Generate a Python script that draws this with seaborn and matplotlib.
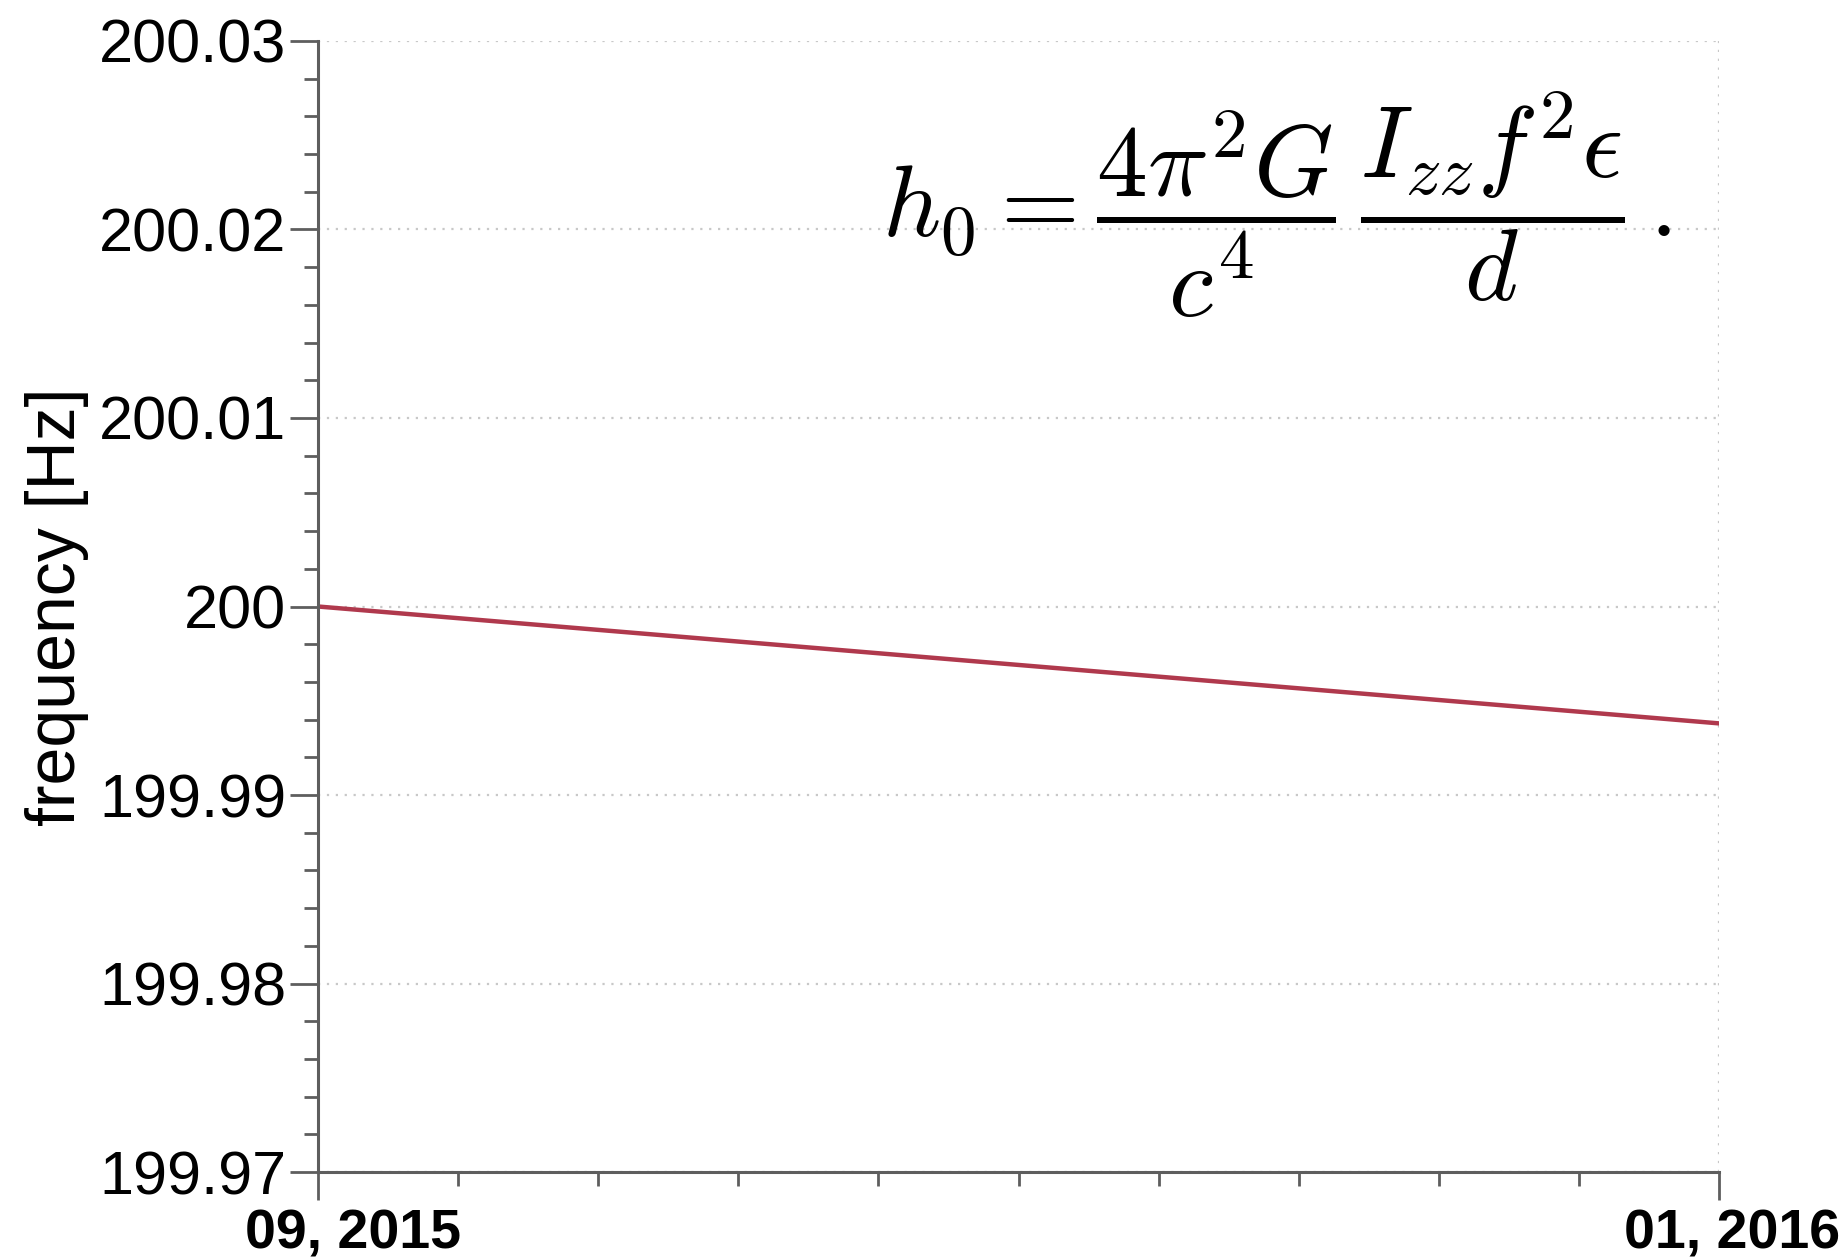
import numpy as np
import pandas as pd
import seaborn as sns
import matplotlib
matplotlib.use("Agg")
import matplotlib.pyplot as plt
import matplotlib.dates as mdates
from matplotlib.ticker import FixedLocator, NullFormatter
from matplotlib.transforms import ScaledTranslation

# Spin-down of a 200 Hz source over four months
dates = ["2015-09-01", "2016-01-01"]
frequency_hz = [200.0, 199.9938]

y_ticks = [199.97, 199.98, 199.99, 200.00, 200.01, 200.02, 200.03]
y_tick_labels = ["199.97", "199.98", "199.99", "200", "200.01", "200.02", "200.03"]
x_tick_labels = ["09, 2015", "01, 2016"]

df = pd.DataFrame({"date": pd.to_datetime(dates), "frequency": frequency_hz})

sns.set_theme(style="white")
plt.rcParams["font.family"] = ["Liberation Sans", "DejaVu Sans"]
plt.rcParams["mathtext.fontset"] = "cm"
plt.rcParams["text.color"] = "black"
plt.rcParams["xtick.labelcolor"] = "black"
plt.rcParams["ytick.labelcolor"] = "black"
plt.rcParams["axes.labelcolor"] = "black"

fig = plt.figure(figsize=(18.48, 12.6), dpi=100)
ax = fig.add_axes([0.1721, 0.0698, 0.7581, 0.8977])

sns.lineplot(data=df, x="date", y="frequency", ax=ax, color="#b0394d", linewidth=3.2)

x0, x1 = mdates.date2num(df["date"].iloc[0]), mdates.date2num(df["date"].iloc[-1])
ax.set_xlim(x0, x1)
ax.set_ylim(y_ticks[0], y_ticks[-1])

# axis ticks
ax.xaxis.set_major_locator(FixedLocator([x0, x1]))
ax.xaxis.set_minor_locator(FixedLocator(np.linspace(x0, x1, 11)[1:-1]))
ax.xaxis.set_minor_formatter(NullFormatter())
ax.set_xticklabels(x_tick_labels, fontsize=40, fontweight="bold")

ax.yaxis.set_major_locator(FixedLocator(y_ticks))
ax.yaxis.set_minor_locator(FixedLocator(np.arange(199.97, 200.0301, 0.002)))
ax.set_yticklabels(y_tick_labels, fontsize=44)

ax.tick_params(which="major", direction="out", length=20, width=2.0, color="#5e5e5e",
               left=True, bottom=True)
ax.tick_params(which="minor", direction="out", length=10, width=2.0, color="#5e5e5e",
               left=True, bottom=True)
ax.tick_params(axis="y", which="major", pad=3)
ax.tick_params(axis="x", which="major", pad=6)

for side in ("top", "right"):
    ax.spines[side].set_visible(False)
for side in ("left", "bottom"):
    ax.spines[side].set_color("#5e5e5e")
    ax.spines[side].set_linewidth(2.2)

ax.grid(True, which="major", linestyle=(0, (1, 3)), color="#c8c8c8", linewidth=1.6)
ax.set_axisbelow(True)

ax.set_xlabel("")
ax.set_ylabel("frequency [Hz]", fontsize=49, labelpad=7)

# nudge the date labels to the right
for lbl, dx in zip(ax.get_xticklabels(), (35, 13)):
    lbl.set_transform(lbl.get_transform() + ScaledTranslation(dx / 100, 0, fig.dpi_scale_trans))

# spin-down strain amplitude
fig.text(0.4775, 0.838,
         r"$h_0 = \dfrac{4\pi^2 G}{c^4}\,\dfrac{I_{zz} f^2 \epsilon}{d}\,.$",
         fontsize=73, ha="left", va="center", color="black")

fig.savefig("out.png", dpi=100)
